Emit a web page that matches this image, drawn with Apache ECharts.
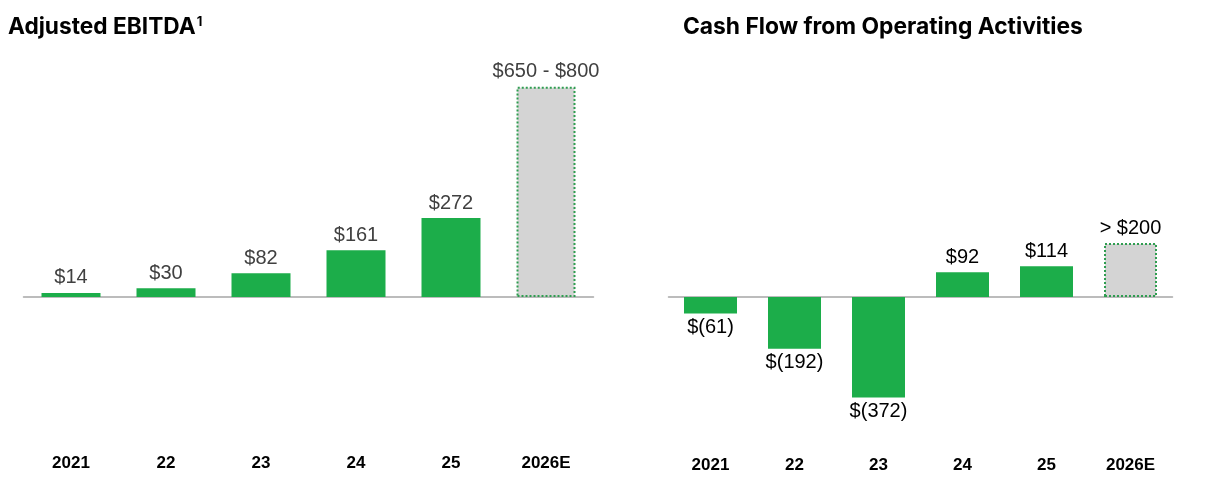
<!DOCTYPE html>
<html>
<head>
<meta charset="utf-8">
<script src="https://cdn.jsdelivr.net/npm/echarts@6/dist/echarts.min.js"></script>
<style>
html,body{margin:0;padding:0;background:#fff;}
#chart{width:1209px;height:483px;}
</style>
</head>
<body>
<div id="chart"></div>
<script>
const categories = ['2021', '22', '23', '24', '25', '2026E'];
const ebitdaValues = [14, 30, 82, 161, 272, 725];
const ebitdaLabels = ['$14', '$30', '$82', '$161', '$272', '$650 - $800'];
const cfoValues = [-61, -192, -372, 92, 114, 200];
const cfoLabels = ['$(61)', '$(192)', '$(372)', '$92', '$114', '> $200'];
const estimateIndex = 5;

const GREEN = '#1cad4a';
const GRAY = '#d4d4d4';
const DOT = '#2f9d50';

function buildData(values, labels, labelColor) {
  return values.map((v, i) => {
    const est = i === estimateIndex;
    return {
      value: v,
      itemStyle: est
        ? { color: GRAY, borderColor: DOT, borderWidth: 2, borderType: 'dotted' }
        : { color: GREEN },
      label: {
        show: true,
        position: v < 0 ? 'bottom' : 'top',
        distance: v < 0 ? 4 : 5,
        formatter: labels[i],
        color: labelColor,
        fontSize: 20,
        fontFamily: 'Liberation Sans, Arial, sans-serif'
      }
    };
  });
}

const chart = echarts.init(document.getElementById('chart'));
const axisLabelStyle = {
  color: '#000',
  fontSize: 17,
  fontWeight: 'bold',
  fontFamily: 'Liberation Sans, Arial, sans-serif'
};
const lineStyle = { color: '#a6a6a6', width: 1.5 };

chart.setOption({
  animation: false,
  backgroundColor: '#fff',
  title: [
    {
      text: '{t|Adjusted EBITDA}{s|1}',
      left: 8, top: 16, padding: 0,
      textStyle: {
        rich: {
          t: { fontFamily: 'Inter, sans-serif', fontWeight: 700, fontSize: 22.7, color: '#000' },
          s: { fontFamily: 'Inter, sans-serif', fontWeight: 700, fontSize: 13, color: '#000', verticalAlign: 'top', padding: [0, 0, 9, 1] }
        }
      }
    },
    {
      text: 'Cash Flow from Operating Activities',
      left: 683, top: 16, padding: 0,
      textStyle: { fontFamily: 'Inter, sans-serif', fontWeight: 700, fontSize: 22.8, color: '#000' }
    }
  ],
  grid: [
    { left: 23.5, width: 570, top: 65, height: 232, outerBoundsMode: 'none', containLabel: false },
    { left: 668.5, width: 504, top: 189, height: 216, outerBoundsMode: 'none', containLabel: false }
  ],
  xAxis: [
    {
      type: 'category', gridIndex: 0, data: categories, position: 'bottom',
      axisLine: { show: true, onZero: false, lineStyle: lineStyle },
      axisTick: { show: false },
      axisLabel: Object.assign({ margin: 158 }, axisLabelStyle)
    },
    {
      type: 'category', gridIndex: 1, data: categories, position: 'bottom',
      axisLine: { show: false, onZero: false },
      axisTick: { show: false },
      axisLabel: Object.assign({ margin: 52 }, axisLabelStyle)
    },
    {
      type: 'category', gridIndex: 1, data: categories, position: 'bottom',
      axisLine: { show: true, onZero: true, lineStyle: lineStyle },
      axisTick: { show: false },
      axisLabel: { show: false }
    }
  ],
  yAxis: [
    { type: 'value', gridIndex: 0, min: 0, max: 800, show: false, splitLine: { show: false } },
    { type: 'value', gridIndex: 1, min: -400, max: 400, show: false, splitLine: { show: false } }
  ],
  series: [
    {
      type: 'bar', xAxisIndex: 0, yAxisIndex: 0, barWidth: 59,
      data: buildData(ebitdaValues, ebitdaLabels, '#404040')
    },
    {
      type: 'bar', xAxisIndex: 1, yAxisIndex: 1, barWidth: 53,
      data: buildData(cfoValues, cfoLabels, '#000')
    }
  ]
});
</script>
</body>
</html>
